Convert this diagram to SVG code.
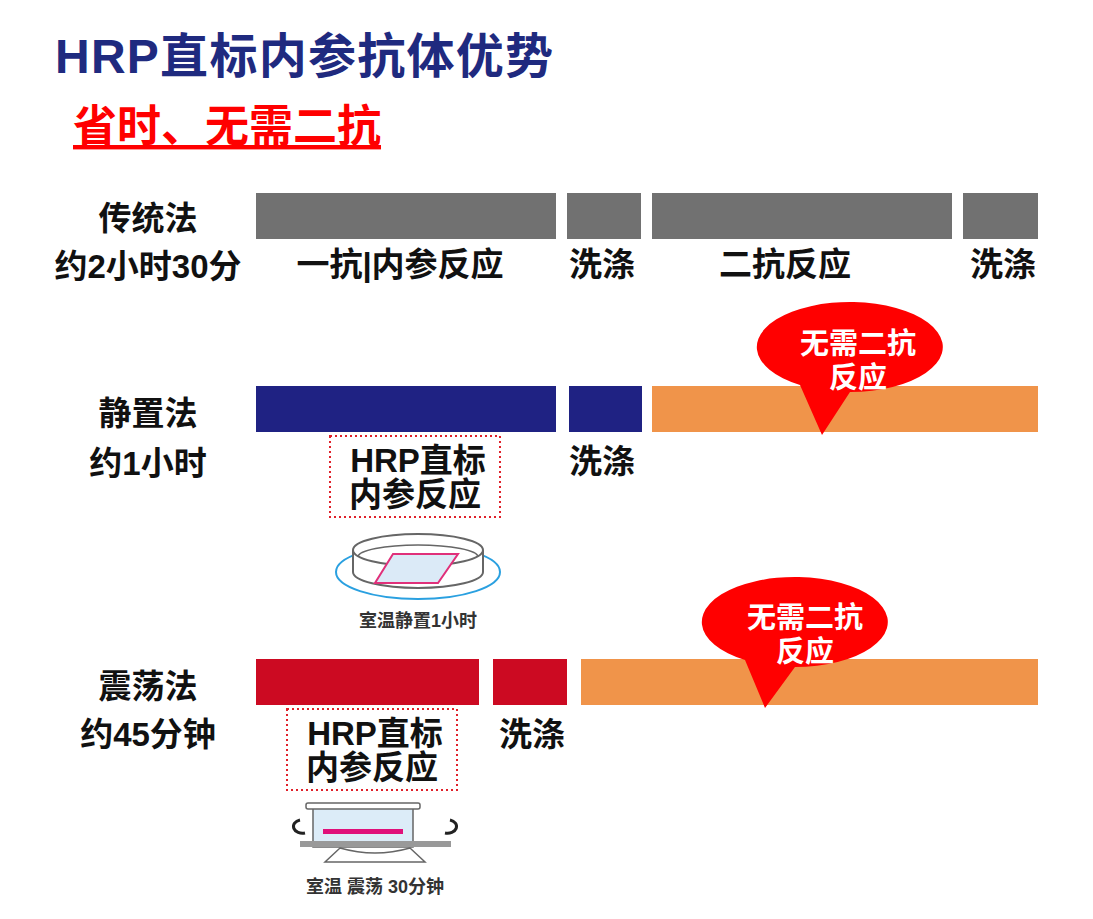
<svg xmlns="http://www.w3.org/2000/svg" width="1093" height="919" viewBox="0 0 1093 919">
<style>
text{font-family:"Liberation Sans","Noto Sans CJK SC",sans-serif}
.t{font-size:33px;font-weight:bold;fill:#111;text-anchor:middle}
.w{font-size:29px;font-weight:bold;fill:#fff;text-anchor:middle}
.box{fill:none;stroke:#e0202a;stroke-width:2;stroke-dasharray:2 3}
.cap{font-size:18px;font-weight:bold;fill:#333;text-anchor:middle}
</style>
<rect width="1093" height="919" fill="#fff"/>
<text x="55" y="73" font-size="48" font-weight="bold" fill="#1f2a7f" textLength="498">HRP直标内参抗体优势</text>
<text x="73" y="142" font-size="44" font-weight="bold" fill="#f00" text-decoration="underline">省时、无需二抗</text>
<g id="row1">
<rect x="256" y="193" width="300" height="46" fill="#717171"/>
<rect x="567" y="193" width="74" height="46" fill="#717171"/>
<rect x="652" y="193" width="300" height="46" fill="#717171"/>
<rect x="963" y="193" width="75" height="46" fill="#717171"/>
<text class="t" x="148" y="230">传统法</text>
<text class="t" x="148" y="278">约2小时30分</text>
<text class="t" x="400" y="276">一抗|内参反应</text>
<text class="t" x="602" y="276">洗涤</text>
<text class="t" x="785" y="276">二抗反应</text>
<text class="t" x="1003" y="276">洗涤</text>
</g>
<g id="row2">
<rect x="256" y="386" width="300" height="46" fill="#1f2283"/>
<rect x="569" y="386" width="73" height="46" fill="#1f2283"/>
<rect x="652" y="386" width="386" height="46" fill="#f0944a"/>
<text class="t" x="148" y="425">静置法</text>
<text class="t" x="148" y="475">约1小时</text>
<rect class="box" x="330" y="436" width="170" height="81"/>
<text class="t" x="418" y="472">HRP直标</text>
<text class="t" x="415" y="506">内参反应</text>
<text class="t" x="602" y="473">洗涤</text>
</g>
<g id="bubble1">
<path d="M800,385 A93,45 0 1 1 850,392 L822,435 Z" fill="#f00"/>
<text class="w" x="858" y="354">无需二抗</text>
<text class="w" x="858" y="388">反应</text>
</g>
<g id="dish1">
<ellipse cx="418" cy="572" rx="82" ry="27" fill="none" stroke="#2aa0e0" stroke-width="2"/>
<path d="M353,550 L353,572 A65,16 0 0 0 483,572 L483,550" fill="#fff" stroke="#666" stroke-width="2"/>
<ellipse cx="418" cy="550" rx="65" ry="16" fill="#fff" stroke="#666" stroke-width="2"/>
<path d="M358,557 A60,12 0 0 1 478,557" fill="none" stroke="#666" stroke-width="1.5"/>
<polygon points="393,554 458,554 438,583 375,583" fill="#dbeaf7" stroke="#e0307a" stroke-width="2"/>
<text class="cap" x="418" y="627">室温静置1小时</text>
</g>
<g id="row3">
<rect x="256" y="659" width="223" height="46" fill="#cc0a22"/>
<rect x="493" y="659" width="74" height="46" fill="#cc0a22"/>
<rect x="581" y="659" width="457" height="46" fill="#f0944a"/>
<text class="t" x="148" y="698">震荡法</text>
<text class="t" x="148" y="746">约45分钟</text>
<rect class="box" x="287" y="709" width="170" height="81"/>
<text class="t" x="375" y="745">HRP直标</text>
<text class="t" x="372" y="779">内参反应</text>
<text class="t" x="532" y="746">洗涤</text>
</g>
<g id="bubble2">
<path d="M745,660 A93,45 0 1 1 795,667 L765,708 Z" fill="#f00"/>
<text class="w" x="805" y="628">无需二抗</text>
<text class="w" x="805" y="662">反应</text>
</g>
<g id="shaker">
<rect x="313" y="807" width="100" height="40" fill="#dcecf8" stroke="#666" stroke-width="1.5"/>
<rect x="306" y="803" width="114" height="6" rx="2" fill="#fff" stroke="#666" stroke-width="1.5"/>
<rect x="323" y="829" width="80" height="5" fill="#e0107a"/>
<rect x="300" y="841" width="151" height="6" fill="#999"/>
<path d="M340,848 Q375,858 410,848 L425,862 L325,862 Z" fill="#fff" stroke="#666" stroke-width="1.5"/>
<path d="M300,820 A8,6 0 1 0 305,833" fill="none" stroke="#222" stroke-width="3"/>
<path d="M450,820 A8,6 0 1 1 445,833" fill="none" stroke="#222" stroke-width="3"/>
<text class="cap" x="375" y="893">室温 震荡 30分钟</text>
</g>
</svg>
